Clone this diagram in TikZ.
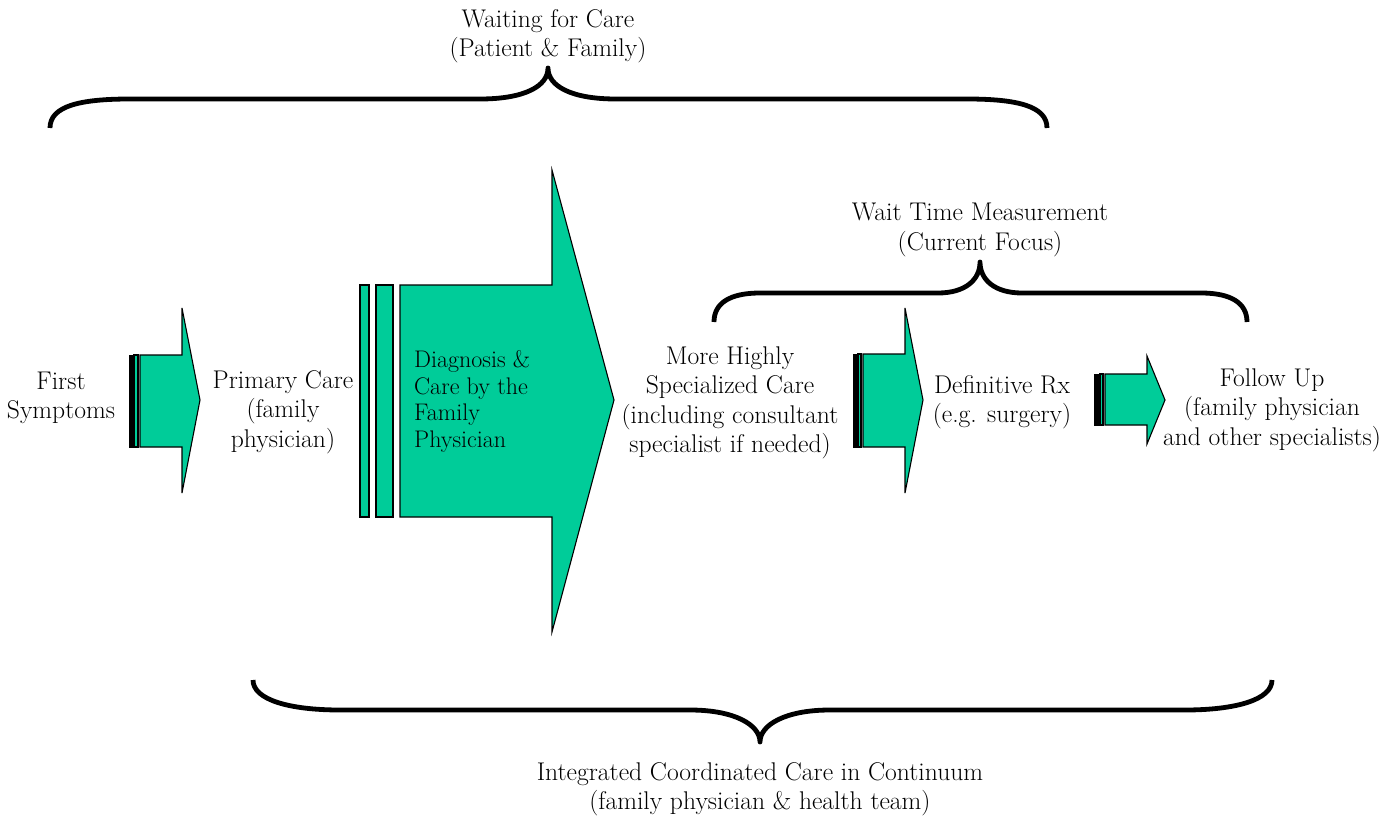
\documentclass[tikz,border=0pt]{standalone}
\definecolor{arrowteal}{RGB}{0,204,153}
\begin{document}
\begin{tikzpicture}[x=1pt,y=-1pt,
  tealshape/.style={fill=arrowteal,draw=black,line width=1.1pt,line join=miter},
  blackstripe/.style={fill=black,draw=black,line width=0.8pt},
  bracepath/.style={draw=black,line width=4.8pt,line join=round},
  lbl/.style={font=\fontsize{25.6}{29.5}\selectfont,align=center,inner sep=0pt},
  inlbl/.style={font=\fontsize{24}{26.8}\selectfont,align=left,inner sep=0pt,anchor=north west}]
\useasboundingbox (0,0) rectangle (1383,821);

% arrow 1
\draw[blackstripe] (129,355) rectangle (134,447);
\draw[tealshape] (134,355) rectangle (138,447);
\draw[tealshape] (140,355) -- (182,355) -- (182,308) -- (200,400) -- (182,493) -- (182,447) -- (140,447) -- cycle;

% big arrow
\draw[tealshape] (360,285) rectangle (369,517);
\draw[tealshape] (376,285) rectangle (393,517);
\draw[tealshape] (400,285) -- (552,285) -- (552,170) -- (614,400) -- (552,632) -- (552,517) -- (400,517) -- cycle;

% arrow 3
\draw[blackstripe] (853,354) rectangle (858,447);
\draw[tealshape] (858,354) rectangle (861,447);
\draw[tealshape] (863,354) -- (905,354) -- (905,308) -- (923,400) -- (905,493) -- (905,447) -- (863,447) -- cycle;

% arrow 4
\draw[blackstripe] (1094,374) rectangle (1100,425);
\draw[tealshape] (1100,374) rectangle (1103,425);
\draw[tealshape] (1105,374) -- (1147,374) -- (1147,356) -- (1165,400) -- (1147,444) -- (1147,425) -- (1105,425) -- cycle;

% braces
\draw[bracepath] (50,128) .. controls (50,106) and (80,99) .. (130,99) -- (480,99)
  .. controls (525,99) and (548,86) .. (548,68) .. controls (548,86) and (571,99) .. (616,99)
  -- (967,99) .. controls (1017,99) and (1047,106) .. (1047,128);
\draw[bracepath] (714,322) .. controls (714,303) and (730,293) .. (760,293) -- (938,293)
  .. controls (965,293) and (980,280) .. (980,262) .. controls (980,280) and (995,293) .. (1022,293)
  -- (1201,293) .. controls (1231,293) and (1247,303) .. (1247,322);
\draw[bracepath] (253,680) .. controls (253,700) and (290,710) .. (340,710) -- (690,710)
  .. controls (735,710) and (760,725) .. (760,742) .. controls (760,725) and (785,710) .. (830,710)
  -- (1185,710) .. controls (1235,710) and (1272,700) .. (1272,680);

% labels
\node[lbl] (waiting) at (548,36) {Waiting for Care\\(Patient \& Family)};
\node[lbl] (waittime) at (980,230) {Wait Time Measurement\\(Current Focus)};
\node[lbl] (integrated) at (760,789) {Integrated Coordinated Care in Continuum\\(family physician \& health team)};
\node[lbl] (first) at (61,398) {First\\Symptoms};
\node[lbl] (primary) at (283,412) {Primary Care\\(family\\physician)};
\node[inlbl] (diag) at (414,350) {Diagnosis \&\\Care by the\\Family\\Physician};
\node[lbl] (special) at (730,403) {More Highly\\Specialized Care\\(including consultant\\specialist if needed)};
\node[lbl] (definitive) at (1002,402) {Definitive Rx\\(e.g. surgery)};
\node[lbl] (follow) at (1272,410) {Follow Up\\(family physician\\and other specialists)};
\end{tikzpicture}
\end{document}
